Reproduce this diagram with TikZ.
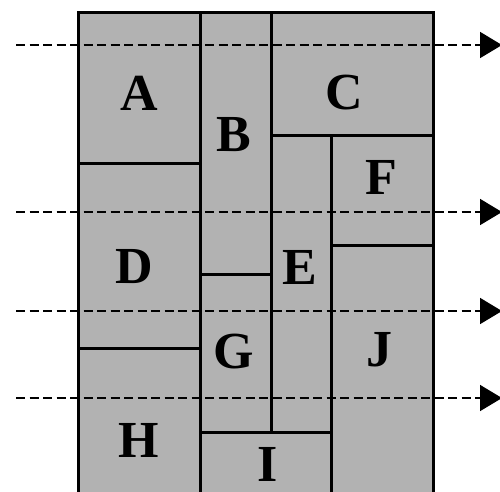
\documentclass[tikz,border=0pt]{standalone}
\usepackage{fontspec}
\setmainfont{Liberation Serif}
\usetikzlibrary{arrows.meta}
\definecolor{cellgray}{RGB}{178,178,178}
\begin{document}
\begin{tikzpicture}[x=1pt,y=-1pt,
  wall/.style={line width=3pt,black},
  lbl/.style={font=\fontsize{52}{58}\selectfont\bfseries,inner sep=0pt},
  scan/.style={line width=1.7pt,dash pattern=on 9pt off 4.5pt,-{Triangle[length=22pt,width=26pt]}}]
\clip (0,0) rectangle (500,491);
\fill[white] (0,0) rectangle (500,491);
% outer block
\fill[cellgray] (78,12) rectangle (433,500);
% internal walls
\draw[wall] (200,12) -- (200,500);
\draw[wall] (78,163) -- (200,163);
\draw[wall] (78,348) -- (200,348);
\draw[wall] (271,12) -- (271,432);
\draw[wall] (271,135) -- (433,135);
\draw[wall] (331,135) -- (331,500);
\draw[wall] (331,245) -- (433,245);
\draw[wall] (200,274) -- (271,274);
\draw[wall] (200,432) -- (331,432);
\draw[wall] (78,500) -- (78,12) -- (433,12) -- (433,500);
% labels
\node[lbl] (A) at (139,93) {A};
\node[lbl] (B) at (234,135) {B};
\node[lbl] (C) at (344,93) {C};
\node[lbl] (D) at (134,267) {D};
\node[lbl] (E) at (300,267) {E};
\node[lbl] (F) at (381,177) {F};
\node[lbl] (G) at (234,352) {G};
\node[lbl] (H) at (139,440) {H};
\node[lbl] (I) at (268,464) {I};
\node[lbl] (J) at (379,350) {J};
% scan lines
\coordinate (s1) at (16,45);  \coordinate (e1) at (502,45);
\coordinate (s2) at (16,212); \coordinate (e2) at (502,212);
\coordinate (s3) at (16,311); \coordinate (e3) at (502,311);
\coordinate (s4) at (16,398); \coordinate (e4) at (502,398);
\draw[scan] (s1) -- (e1);
\draw[scan] (s2) -- (e2);
\draw[scan] (s3) -- (e3);
\draw[scan] (s4) -- (e4);
\end{tikzpicture}
\end{document}
